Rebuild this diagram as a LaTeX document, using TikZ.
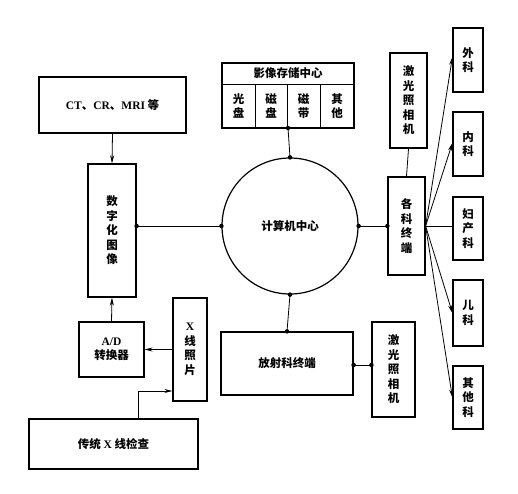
\documentclass[tikz,border=0pt]{standalone}
\usepackage{fontspec}
\setmainfont{Liberation Serif}
\newfontfamily\cjk{Noto Sans CJK SC}
\usepackage{tikz}
\usetikzlibrary{arrows.meta, positioning}

\tikzset{
  blk/.style={draw, line width=1.2pt, rectangle, inner sep=0pt, align=center, font=\cjk\bfseries\fontsize{11.5}{14.5}\selectfont},
  txt/.style={font=\cjk\bfseries\fontsize{11.5}{14}\selectfont, align=center},
  lnk/.style={line width=0.8pt},
  arr/.style={line width=0.8pt, -{Stealth[length=8pt, width=4pt]}},
  dot/.style={circle, fill, inner sep=0pt, minimum size=4.5pt}
}

\begin{document}
\begin{tikzpicture}[x=1pt, y=-1pt]
\useasboundingbox (0,0) rectangle (518,493);

% left column
\node[blk, minimum width=147, minimum height=56] (ct) at (112.5,105) {{\rmfamily CT}、{\rmfamily CR}、{\rmfamily MRI} 等};
\node[blk, minimum width=48, minimum height=133] (dig) at (112,230.5) {数\\字\\化\\图\\像};
\node[blk, minimum width=65, minimum height=55] (ad) at (111.5,349.5) {{\rmfamily A/D}\\转换器};
\node[blk, minimum width=34, minimum height=103] (film) at (190,349.5) {{\rmfamily X}\\线\\照\\片};
\node[blk, minimum width=169, minimum height=50] (xray) at (113.5,444) {传统 {\rmfamily X} 线检查};

% centre
\node[draw, line width=1.2pt, circle, minimum size=136pt, txt] (cpu) at (290,226) {计算机中心};

% image storage centre
\draw[line width=1.2pt] (222,63) rectangle (354,128);
\draw[line width=1pt] (222,84) -- (354,84);
\foreach \x in {255,287,320} \draw[line width=1pt] (\x,84) -- (\x,128);
\node[txt] (storetitle) at (288,73.5) {影像存储中心};
\node[txt] (s1) at (238.5,106) {光\\盘};
\node[txt] (s2) at (271,106) {磁\\盘};
\node[txt] (s3) at (303.5,106) {磁\\带};
\node[txt] (s4) at (337,106) {其\\他};
\coordinate (store) at (288,128);

% radiology terminal
\node[blk, minimum width=132, minimum height=63] (ris) at (287,363.5) {放射科终端};
\node[blk, minimum width=43, minimum height=95] (cam2) at (393.5,369.5) {激\\光\\照\\相\\机};

% department terminals
\node[blk, minimum width=37, minimum height=95] (cam1) at (408.5,100.5) {激\\光\\照\\相\\机};
\node[blk, minimum width=37, minimum height=98] (term) at (406.5,226) {各\\科\\终\\端};
\node[blk, minimum width=30, minimum height=64] (d1) at (468,60) {外\\科};
\node[blk, minimum width=30, minimum height=64] (d2) at (468,144) {内\\科};
\node[blk, minimum width=30, minimum height=63] (d3) at (468,228.5) {妇\\产\\科};
\node[blk, minimum width=30, minimum height=66] (d4) at (468,313) {儿\\科};
\node[blk, minimum width=30, minimum height=63] (d5) at (468,397.5) {其\\他\\科};

% connectors
\draw[arr] (ct.south) -- (dig.north);
\draw[arr] (ad.north) -- (dig.south);
\draw[arr] (film.west) -- (ad.east);
\draw[arr] ([xshift=24.5pt]xray.north) |- ([yshift=-41.5pt]film.west);
\draw[lnk] (dig.east |- cpu.west) -- (cpu.west);
\node[dot] at (dig.east |- cpu.west) {};
\node[dot] at (cpu.west) {};
\draw[lnk] (store) -- (cpu.north);
\node[dot] at (store) {};
\node[dot] at (cpu.north) {};
\draw[lnk] (cpu.south) -- (ris.north);
\node[dot] at (cpu.south) {};
\node[dot] at (ris.north) {};
\draw[lnk] ([yshift=-1.5pt]ris.east) -- ([yshift=-1.5pt]ris.east -| cam2.west);
\node[dot] at ([yshift=-1.5pt]ris.east) {};
\node[dot] at ([yshift=-1.5pt]ris.east -| cam2.west) {};
\draw[lnk] (cpu.east) -- (term.west);
\node[dot] at (cpu.east) {};
\node[dot] at (term.west) {};
\draw[lnk] (cam1.south) -- (term.north);
\draw[arr] (term.east) -- ([yshift=3pt]d1.west);
\draw[arr] (term.east) -- ([yshift=1pt]d2.west);
\draw[lnk] (term.east) -- (term.east -| d3.west);
\draw[arr] (term.east) -- (d4.west);
\draw[arr] (term.east) -- (d5.west);
\end{tikzpicture}
\end{document}
